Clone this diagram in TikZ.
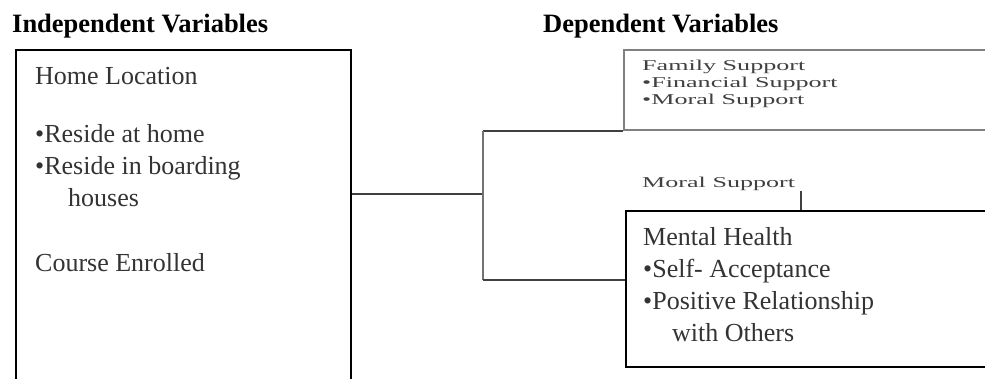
\documentclass[tikz,border=0pt]{standalone}
\usepackage{fontspec}
\setmainfont{Liberation Serif}
\usetikzlibrary{positioning}

\tikzstyle{var box}=[draw,line width=2pt,inner sep=0pt,anchor=north west]
\tikzstyle{faint box}=[draw=black!50,line width=2pt,inner sep=0pt,anchor=north west]
\tikzstyle{heading}=[font=\fontsize{26.5}{30}\selectfont\bfseries,inner sep=0pt,anchor=base west]
\tikzstyle{var text}=[font=\fontsize{26}{32}\selectfont,text=black!80,align=left,inner sep=0pt]
\tikzstyle{small text}=[font=\fontsize{15}{17}\selectfont,text=black!75,inner sep=0pt]
\tikzstyle{link}=[draw,line width=2.2pt,black!75]

\begin{document}
\begin{tikzpicture}[x=1pt,y=1pt]
    \clip (0,0) rectangle (985,379);

    % boxes
    \node[var box,minimum width=335pt,minimum height=360pt] (iv) at (15,330) {};
    \node[faint box,minimum width=400pt,minimum height=80pt] (fs) at (623,330) {};
    \node[var box,minimum width=400pt,minimum height=156pt] (mh) at (625,169) {};

    % headings
    \node[heading] (ivt) at (12,346) {Independent Variables};
    \node[heading] (dvt) at (543,346) {Dependent Variables};

    % texts in the boxes
    \node[var text,below right=18pt and 20pt of iv.north west] (ivl)
        {Home Location\\[26pt]•Reside at home\\•Reside in boarding\\\hspace*{33pt}houses\\[33pt]Course Enrolled};
    \node[var text,below right=17pt and 18pt of mh.north west] (mhl)
        {Mental Health\\•Self- Acceptance\\•Positive Relationship\\\hspace*{29pt}with Others};
    \node[small text,below right=9pt and 19pt of fs.north west] (fsl)
        {\scalebox{1.74}[1]{\begin{tabular}{@{}l@{}}Family Support\\•Financial Support\\•Moral Support\end{tabular}}};
    \node[small text,above right=19pt and 17pt of mh.north west] (msl)
        {\scalebox{1.74}[1]{Moral Support}};

    % connectors
    \coordinate (split) at (483,185);
    \coordinate (jb) at (483,99);
    \coordinate (tick) at (801,188);
    \path[link] (split -| iv.east) -- (split);
    \path[link] (fs.south west) -- (split |- fs.south west);
    \path[link,black!55] (split |- fs.south west) -- (jb);
    \path[link] (jb) -- (jb -| mh.west);
    \path[link] (tick) -- (tick |- mh.north);

\end{tikzpicture}
\end{document}
